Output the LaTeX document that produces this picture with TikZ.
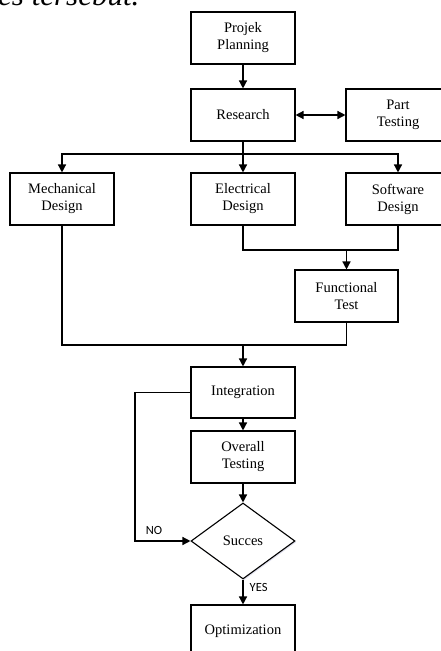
\documentclass[tikz,border=0pt]{standalone}
\usepackage{fontspec}
\setmainfont{Liberation Serif}
\newfontfamily\lblfont{Carlito}
\usetikzlibrary{arrows.meta,shapes.geometric,shadows}
\begin{document}
\begin{tikzpicture}[x=1pt,y=-1pt,
  every node/.style={font=\fontsize{14.5}{17}\selectfont},
  shd/.style={drop shadow={shadow xshift=1.2pt,shadow yshift=-1.2pt,fill=blue!30!gray!40,opacity=0.45}},
  box/.style={draw,line width=1.1pt,fill=white,minimum width=104pt,minimum height=52pt,inner sep=0pt,align=center,shd},
  dec/.style={draw,diamond,aspect=1.368,line width=1.1pt,fill=white,minimum width=104pt,minimum height=76pt,inner sep=0pt,shd},
  conn/.style={line width=1.4pt},
  arr/.style={conn,-{Triangle[length=8pt,width=8pt]}},
  darr/.style={conn,{Triangle[length=8pt,width=8pt]}-{Triangle[length=8pt,width=8pt]}},
  lbl/.style={font=\lblfont\fontsize{12.5}{14}\selectfont,inner sep=0pt}]
\useasboundingbox (0,0) rectangle (441,651);
\clip (0,0) rectangle (441,651);
\fill[white] (0,0) rectangle (441,651);
\node[anchor=base west,inner sep=0pt,font=\fontsize{31}{35}\selectfont\itshape] (head) at (-2,5) {es tersebut.};
\node[box] (plan) at (243,38) {Projek\\Planning};
\node[box] (research) at (243,115) {Research};
\node[box] (part) at (398,115) {Part\\Testing};
\node[box] (mech) at (62,199) {Mechanical\\Design};
\node[box] (elec) at (243,199) {Electrical\\Design};
\node[box] (soft) at (398,199) {Software\\Design};
\node[box,minimum width=103pt] (func) at (346.5,296) {Functional\\Test};
\node[box,minimum height=51pt] (integ) at (243,392.5) {Integration};
\node[box] (overall) at (243,457) {Overall\\Testing};
\node[dec] (succ) at (243,541) {Succes};
\node[box] (optim) at (243,631) {Optimization};
\coordinate (br) at (243,154);
\coordinate (j1) at (346.5,250);
\coordinate (j2) at (243,345);
\coordinate (nol) at (135,392.5);
\draw[arr] (plan) -- (research);
\draw[darr] (research) -- (part);
\draw[arr] (research) -- (elec);
\draw[arr] (br) -| (mech.north);
\draw[arr] (br) -| (soft.north);
\draw[conn] (elec.south) |- (soft.south |- j1) -- (soft.south);
\draw[arr] (j1) -- (func.north);
\draw[conn] (mech.south) |- (func.south |- j2) -- (func.south);
\draw[arr] (j2) -- (integ.north);
\draw[arr] (integ) -- (overall);
\draw[arr] (overall) -- (succ.north);
\draw[arr] (succ.south) -- node[lbl,right=6pt,pos=0.3] (yes) {YES} (optim.north);
\draw[arr] (integ.west) -- (nol) |- (succ.west);
\node[lbl] (no) at (154,530) {NO};
\end{tikzpicture}
\end{document}
